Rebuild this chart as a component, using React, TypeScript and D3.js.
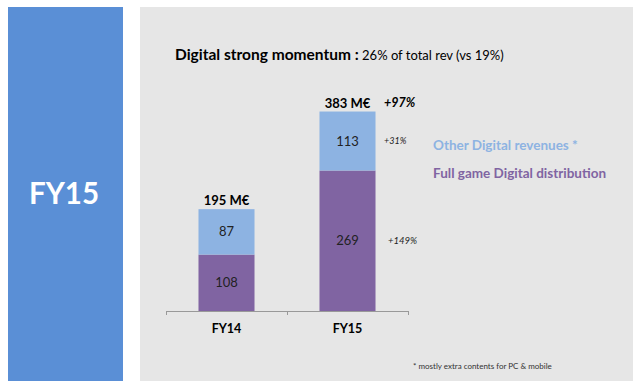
import React from "react";
import * as d3 from "d3";

const categories = ["FY14", "FY15"];
const fullGame = [108, 269];
const otherDigital = [87, 113];
const totalLabels = ["195 M€", "383 M€"];
const seriesNames = ["Other Digital revenues *", "Full game Digital distribution"];
const growthTotal = "+97%";
const growthOther = "+31%";
const growthFull = "+149%";

const W = 640, H = 389;
const FONT = "Lato, 'Open Sans', sans-serif";
const BLUE = "#8db3e2";
const PURPLE = "#8064a2";

export default function App() {
  const x = d3.scaleBand().domain(categories).range([166, 408]).padding(0);
  const y = d3.scaleLinear().domain([0, 383]).range([311, 111]);
  const bw = x.bandwidth() * 0.463;
  const cx = (c: string) => (x(c) as number) + x.bandwidth() / 2;

  const stacked = categories.map((c, i) => ({
    c,
    full: fullGame[i],
    other: otherDigital[i],
    total: fullGame[i] + otherDigital[i],
  }));

  return (
    <svg width={W} height={H} style={{ position: "absolute", left: 0, top: 0 }} fontFamily={FONT}>
      <rect x={0} y={0} width={W} height={H} fill="#ffffff" />
      <rect x={8} y={7} width={115} height={374} fill="#5a8fd6" />
      <text x={64} y={204} textAnchor="middle" fill="#ffffff" fontSize={29.5} fontWeight="bold">FY15</text>
      <rect x={140} y={7} width={493} height={374} fill="#e6e6e6" />

      <text x={175} y={60} fontSize={15.5} fill="#000">
        <tspan fontWeight="bold">Digital strong momentum :</tspan>
        <tspan fontSize={13}> 26% of total rev (vs 19%)</tspan>
      </text>

      {stacked.map((d) => (
        <g key={d.c}>
          <rect x={cx(d.c) - bw / 2} y={y(d.full)} width={bw} height={y(0) - y(d.full)} fill={PURPLE} />
          <rect x={cx(d.c) - bw / 2} y={y(d.total)} width={bw} height={y(d.full) - y(d.total)} fill={BLUE} />
          <text x={cx(d.c)} y={(y(0) + y(d.full)) / 2 + 4.5} textAnchor="middle" fontSize={13} fill="#222">{d.full}</text>
          <text x={cx(d.c)} y={(y(d.full) + y(d.total)) / 2 + 4.5} textAnchor="middle" fontSize={13} fill="#222">{d.other}</text>
        </g>
      ))}
      {stacked.map((d, i) => (
        <text key={"t" + i} x={cx(d.c)} y={y(d.total) - 4} textAnchor="middle" fontSize={13} fontWeight="bold" fill="#000">{totalLabels[i]}</text>
      ))}

      <text x={384} y={y(383) - 4} fontSize={12.5} fontWeight="bold" fontStyle="italic" fill="#000">{growthTotal}</text>
      <text x={384} y={(y(fullGame[1]) + y(383)) / 2 + 3} fontSize={9} fontStyle="italic" fill="#222">{growthOther}</text>
      <text x={388} y={(y(0) + y(fullGame[1])) / 2 + 3} fontSize={9.5} fontStyle="italic" fill="#222">{growthFull}</text>

      <line x1={166} x2={408} y1={311.5} y2={311.5} stroke="#999" strokeWidth={1} />
      {[166, 287, 408].map((t) => (
        <line key={t} x1={t + 0.5} x2={t + 0.5} y1={311} y2={315} stroke="#999" strokeWidth={1} />
      ))}
      {categories.map((c) => (
        <text key={c} x={cx(c)} y={333} textAnchor="middle" fontSize={12.5} fontWeight="bold" fill="#000">{c}</text>
      ))}

      <text x={433} y={150} fontSize={13.5} fontWeight="bold" fill={BLUE}>{seriesNames[0]}</text>
      <text x={433} y={178} fontSize={13.5} fontWeight="bold" fill={PURPLE}>{seriesNames[1]}</text>

      <text x={413} y={369} fontSize={8} fill="#333">* mostly extra contents for PC &amp; mobile</text>
    </svg>
  );
}
